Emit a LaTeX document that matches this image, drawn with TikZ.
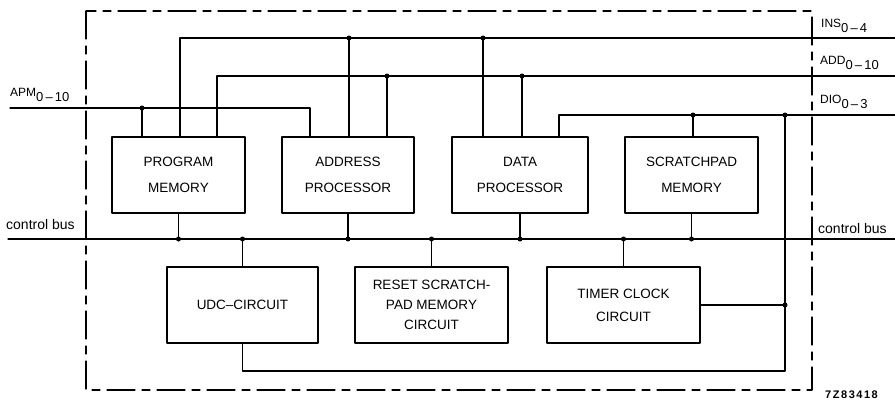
\documentclass[tikz,border=0pt]{standalone}
\usepackage{fontspec}
\setmainfont{Liberation Sans}
\newfontfamily\codefont[LetterSpace=14]{Liberation Sans}
\newcommand{\busname}[2]{#1\raisebox{-5pt}{\fontsize{13}{15}\selectfont#2}}

\begin{document}
\begin{tikzpicture}[x=1pt,y=-1pt,line cap=round,line join=round,
	font=\fontsize{13.5}{16}\selectfont,
	blk/.style={draw,line width=1.5pt,minimum width=#1,minimum height=76pt,align=center,inner sep=0pt},
	blk/.default=133pt,
	wire/.style={line width=1.1pt},
	jn/.style={circle,fill,inner sep=0pt,minimum size=5pt},
	frame/.style={line width=1.2pt,dash pattern=on 28pt off 7pt on 8pt off 7pt},
	lbl/.style={anchor=base west,inner sep=0pt,font=\fontsize{12}{14}\selectfont}]
	\useasboundingbox (0,0) rectangle (895,402);
	% dashed outline
	\draw[frame] (86,11) rectangle (812,390);
	% blocks
	\node[blk] (pm) at (178.5,175) {PROGRAM\\[10pt]MEMORY};
	\node[blk=132pt] (ap) at (348,175) {ADDRESS\\[10pt]PROCESSOR};
	\node[blk=136pt] (dp) at (520,175) {DATA\\[10pt]PROCESSOR};
	\node[blk] (sp) at (691.5,175) {SCRATCHPAD\\[10pt]MEMORY};
	\node[blk=151pt] (udc) at (242.5,305) {UDC--CIRCUIT};
	\node[blk=153pt] (rs) at (431.5,305) {RESET SCRATCH-\\[4pt]PAD MEMORY\\[4pt]CIRCUIT};
	\node[blk=153pt] (tc) at (623.5,305) {TIMER CLOCK\\[7pt]CIRCUIT};
	% bus points
	\foreach \n/\x/\y in {insA/180/38,insB/349/38,insC/483/38,insE/895/38,
		addA/217/76,addB/387/76,addC/522/76,addE/895/76,
		apmS/10/108,apmB/142/108,apmA/310/108,
		dioA/559/115,dioB/693/115,dioC/785/115,dioE/895/115,
		cbS/8/239,cbE/895/239,retA/785/371}
		\coordinate (\n) at (\x,\y);
	% buses
	\draw[wire] (insA |- pm.north) -- (insA) -- (insE);
	\draw[wire] (addA |- pm.north) -- (addA) -- (addE);
	\draw[wire] (apmS) -- (apmA) -- (apmA |- ap.north);
	\draw[wire] (dioA |- dp.north) -- (dioA) -- (dioE);
	\draw[wire] (cbS) -- (cbE);
	\draw[wire] (dioC) -- (retA) -- (retA -| udc.south) -- (udc.south);
	\draw[wire] (tc.east) -- (tc.east -| dioC) node[jn] (tcJ) {};
	% taps
	\foreach \j/\b in {insB/ap,insC/dp,addB/ap,addC/dp,apmB/pm,dioB/sp}
		\draw[wire] (\j |- \b.north) -- (\j) node[jn] (d\j) {};
	\node[jn] (ddioC) at (dioC) {};
	\foreach \b in {pm,ap,dp,sp}
		\draw[wire] (\b.south) -- (\b.south |- cbS) node[jn] (c\b) {};
	\foreach \b in {udc,rs,tc}
		\draw[wire] (\b.north) -- (\b.north |- cbS) node[jn] (c\b) {};
	% labels
	\node[lbl] (apmL) at (10,96) {\busname{APM}{0\,--\,10}};
	\node[lbl] (insL) at (821,27) {\busname{INS}{0\,--\,4}};
	\node[lbl] (addL) at (820,64) {\busname{ADD}{0\,--\,10}};
	\node[lbl] (dioL) at (820,103) {\busname{DIO}{0\,--\,3}};
	\node[lbl,font=\fontsize{14}{16}\selectfont] (cbL) at (6,229) {control bus};
	\node[lbl,font=\fontsize{14}{16}\selectfont] (cbR) at (818,233) {control bus};
	\node[anchor=base west,inner sep=0pt,font={\fontsize{11}{13}\codefont\bfseries}] (code) at (825,398) {7Z83418};
\end{tikzpicture}
\end{document}
